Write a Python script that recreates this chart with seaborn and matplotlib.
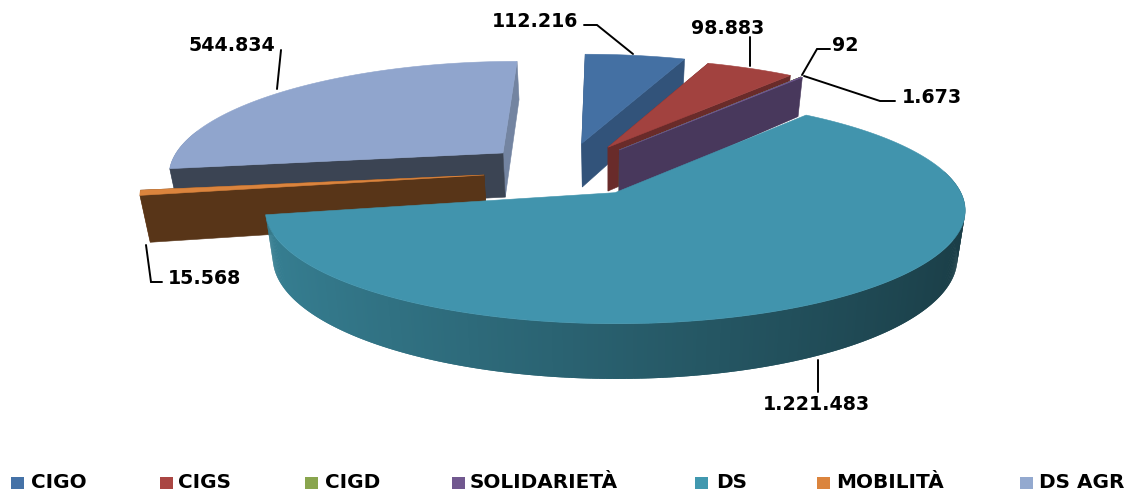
import numpy as np
import matplotlib
matplotlib.use("Agg")
import matplotlib.pyplot as plt
from matplotlib.patches import Polygon, Rectangle
import seaborn as sns

# ---- data ----
categories = ["CIGO", "CIGS", "CIGD", "SOLIDARIETÀ", "DS", "MOBILITÀ", "DS AGR"]
values = [112216, 98883, 92, 1673, 1221483, 15568, 544834]
colors_hex = ["#4572A7", "#AA4643", "#89A54E", "#71588F", "#4198AF", "#DB843D", "#93A9CF"]

# ---- style / layout ----
sns.set_theme(style="white")
plt.rcParams["font.family"] = ["DejaVu Sans"]
palette = sns.color_palette(colors_hex)
top_colors = ["#4470A3", "#A2423F", "#89A54E", "#71588F", "#4194AD", "#DB843D", "#90A5CD"]
# offset of each slice on the pie plane (explosion) and radius scale (x, y)
offsets = {0: (-0.08, 0.53), 1: (0.0, 0.49), 2: (0.034, 0.461), 3: (0.034, 0.461),
           4: (0.02, 0.04), 5: (-0.36, 0.208), 6: (-0.315, 0.43)}
scales = {0: (1.0, 1.1), 1: (1.0, 1.08), 2: (1.0, 1.09), 3: (1.0, 1.09),
          4: (0.98, 1.03), 5: (0.98, 1.0), 6: (0.98, 1.1)}
# shade of the radial cut faces
cut_shade = {0: 0.73, 1: 0.62, 2: 0.62, 3: 0.64, 5: 0.40, 6: 0.40}
CX, CY, RX, RY, K = 608.0, 197.0, 355.0, 109.0, 0.15
HEIGHT, TAPER = 47.0, 0.022
draw_order = [6, 5, 0, 1, 2, 3, 4]
legend_square_x = [11, 160, 305, 452, 695, 817, 1020]
legend_text_x = [31, 178, 325, 470, 716, 836, 1039]
leaders = {
    0: ([584, 597, 633], [25, 25, 54], 535, 21),
    1: ([750, 750], [37, 66], 728, 28),
    2: ([830, 817, 802], [49, 49, 75], 845, 45),
    3: ([895, 880, 804], [101, 101, 76], 932, 97),
    4: ([818, 818], [360, 392], 816, 404),
    5: ([146, 151, 162], [245, 282, 282], 204, 278),
    6: ([281, 277], [50, 89], 232, 45),
}


def project(X, Y, lower=False):
    """Perspective projection of a point on the pie plane to the screen."""
    X, Y = np.asarray(X, float), np.asarray(Y, float)
    D = 1 + K * Y
    x = RX * X / D
    y = -RY * Y / D
    if lower:
        return CX + x * (1 - TAPER), CY + y + HEIGHT / D
    return CX + x, CY + y


def shade(rgb, f):
    return tuple(min(1.0, c * f) for c in rgb)


fig = plt.figure(figsize=(11.25, 4.91), dpi=100, facecolor="white")
ax = fig.add_axes([0, 0, 1, 1])
ax.set_xlim(0, 1125)
ax.set_ylim(491, 0)
ax.axis("off")

fractions = np.array(values, float) / np.sum(values)
edges = np.concatenate([[0.0], np.cumsum(fractions)]) * 2 * np.pi

for z, i in enumerate(draw_order):
    t0, t1 = edges[i], edges[i + 1]
    ox, oy = offsets[i]
    sx, sy = scales[i]
    base = palette[i]
    thetas = np.linspace(t0, t1, max(4, int(np.degrees(t1 - t0) * 2)))
    rimX, rimY = ox + sx * np.sin(thetas), oy + sy * np.cos(thetas)
    zo = 10 + z * 10

    # outer wall: overlapping strips so the gradient shows no seams
    ux, uy = project(rimX, rimY)
    lx, ly = project(rimX, rimY, lower=True)
    for j in range(len(thetas) - 1):
        if np.cos(thetas[j]) > 0.2:
            continue
        k = min(j + 2, len(thetas) - 1)
        col = shade(base, 0.62 - 0.22 * np.sin(thetas[j]))
        ax.add_patch(Polygon([(ux[j], uy[j]), (ux[k], uy[k]), (lx[k], ly[k]), (lx[j], ly[j])],
                             closed=True, fc=col, ec="none", lw=0, zorder=zo))

    # radial cut faces, the rear one first (the large slice shows none)
    apex_u = project(ox, oy)
    apex_l = project(ox, oy, lower=True)
    if i in cut_shade:
        cuts = [(t0, cut_shade[i]), (t1, 0.78 if i == 6 else cut_shade[i])]
        cuts.sort(key=lambda c: -np.cos(c[0]))
        for t, f in cuts:
            rx_, ry_ = ox + sx * np.sin(t), oy + sy * np.cos(t)
            ru, rl = project(rx_, ry_), project(rx_, ry_, lower=True)
            col = shade(base, f)
            ax.add_patch(Polygon([apex_u, ru, rl, apex_l], closed=True, fc=col, ec=col, lw=0.4, zorder=zo + 1))

    # top face
    pts = [apex_u] + list(zip(ux, uy))
    ax.add_patch(Polygon(pts, closed=True, fc=top_colors[i], ec=top_colors[i], lw=0.4, zorder=zo + 2))

# leader lines and value labels
for i, (lxs, lys, tx, ty) in leaders.items():
    ax.plot(lxs, lys, color="black", lw=1.4, zorder=200, solid_joinstyle="miter")
    ax.text(tx, ty, f"{values[i]:,}".replace(",", "."), ha="center", va="center",
            fontsize=13.7, fontweight="bold", color="black", zorder=201)

# legend
for name, col, sx, tx in zip(categories, palette, legend_square_x, legend_text_x):
    ax.add_patch(Rectangle((sx, 477), 13, 12, fc=col, ec="none", zorder=200))
    ax.text(tx, 482.5, name, ha="left", va="center", fontsize=14.4, fontweight="bold", color="black", zorder=201)

fig.savefig("out.png", dpi=100, facecolor="white")
